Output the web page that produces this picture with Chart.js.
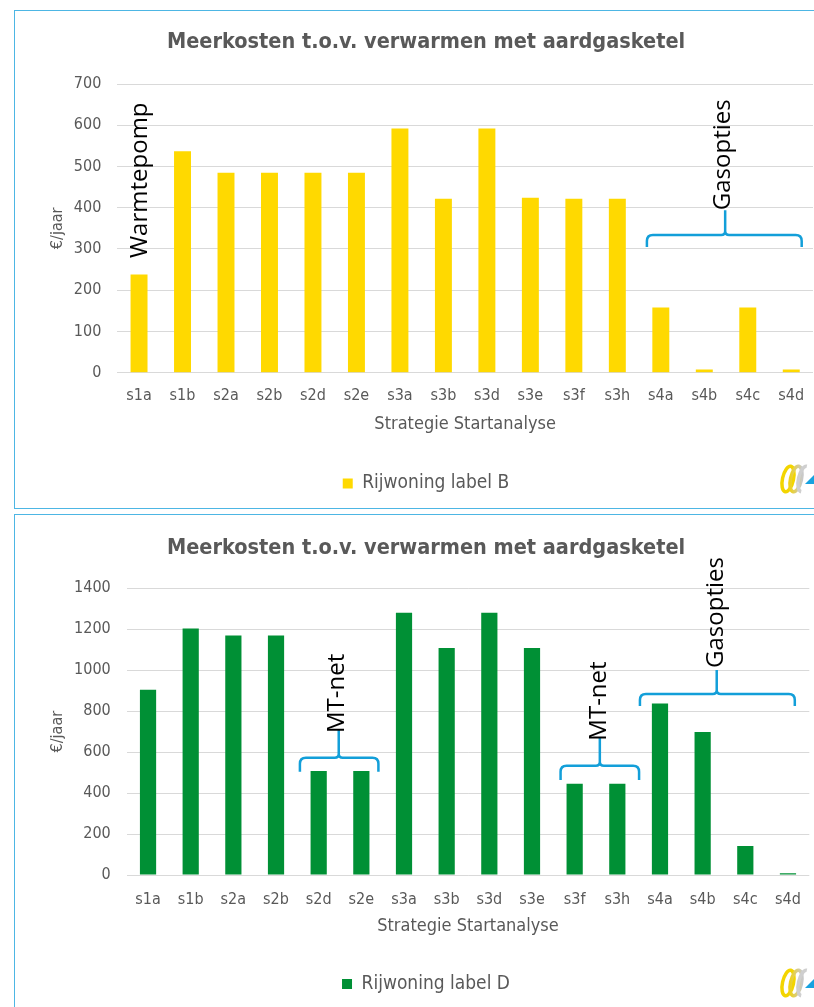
<!DOCTYPE html>
<html>
<head>
<meta charset="utf-8">
<script src="https://cdn.jsdelivr.net/npm/chart.js@4.4.1/dist/chart.umd.min.js"></script>
<style>
  html, body { margin: 0; padding: 0; background: #fff; overflow: hidden; width: 814px; height: 1007px; }
  .box { position: absolute; left: 14px; width: 822px; height: 497px; border: 1px solid #4db6e4; background: #fff; }
  #box1 { top: 10px; }
  #box2 { top: 514px; }
  canvas { position: absolute; left: 0; top: 0; }
</style>
</head>
<body>
<div class="box" id="box1"><canvas id="chartB" width="822" height="497"></canvas></div>
<div class="box" id="box2"><canvas id="chartD" width="822" height="497"></canvas></div>
<script>
// Strategy codes on the x axis
const categories = ['s1a', 's1b', 's2a', 's2b', 's2d', 's2e', 's3a', 's3b', 's3d', 's3e', 's3f', 's3h', 's4a', 's4b', 's4c', 's4d'];

// Extra yearly cost (EUR/year) per strategy
const rijwoningLabelB = [238, 537, 485, 485, 485, 485, 592, 422, 592, 424, 422, 422, 158, 8, 158, 8];
const rijwoningLabelD = [905, 1204, 1170, 1170, 508, 508, 1281, 1108, 1281, 1108, 446, 446, 837, 698, 142, 8];

const seriesNames = ['Rijwoning label B', 'Rijwoning label D'];
const chartTitle = 'Meerkosten t.o.v. verwarmen met aardgasketel';
const xTitle = 'Strategie Startanalyse';
const yTitle = '€/jaar';

const FONT = "'DejaVu Sans Condensed', 'DejaVu Sans', sans-serif";
const GREY = '#595959';

// Curly braces and rotated group labels, placed in data units (category index / value)
const annotate = {
  id: 'annotate',
  afterDatasetsDraw(chart, args, opts) {
    const { ctx, scales: { x, y } } = chart;
    ctx.save();
    ctx.strokeStyle = '#139fd9';
    ctx.lineWidth = 2.5;
    ctx.lineJoin = 'round';
    (opts.braces || []).forEach(b => {
      const x0 = x.getPixelForValue(b.from), x1 = x.getPixelForValue(b.to), xm = x.getPixelForValue(b.mid);
      const yb = y.getPixelForValue(b.bar), ye = y.getPixelForValue(b.end), yt = y.getPixelForValue(b.top);
      const r = 6, s = 4;
      ctx.beginPath();
      ctx.moveTo(x0, ye); ctx.lineTo(x0, yb + r); ctx.quadraticCurveTo(x0, yb, x0 + r, yb);
      ctx.lineTo(xm - s, yb); ctx.quadraticCurveTo(xm, yb, xm, yb - s); ctx.lineTo(xm, yt);
      ctx.moveTo(x1, ye); ctx.lineTo(x1, yb + r); ctx.quadraticCurveTo(x1, yb, x1 - r, yb);
      ctx.lineTo(xm + s, yb); ctx.quadraticCurveTo(xm, yb, xm, yb - s);
      ctx.stroke();
    });
    ctx.fillStyle = '#000';
    ctx.font = "24px 'Open Sans'";
    ctx.textBaseline = 'middle';
    ctx.textAlign = 'left';
    (opts.notes || []).forEach(n => {
      ctx.save();
      ctx.translate(x.getPixelForValue(n.at), y.getPixelForValue(n.base));
      ctx.rotate(-Math.PI / 2);
      ctx.fillText(n.text, 0, 0);
      ctx.restore();
    });
    ctx.restore();
  }
};

// Small ring logo in the lower right corner of each panel
const logo = {
  id: 'logo',
  afterDraw(chart) {
    const ctx = chart.ctx;
    const cx = 773, cy = 468;
    ctx.save();
    ctx.lineWidth = 3.5;
    ctx.strokeStyle = '#f3d500';
    ctx.beginPath(); ctx.ellipse(cx, cy, 5.5, 13, 0.22, 0, Math.PI * 2); ctx.stroke();
    const g = ctx.createLinearGradient(cx + 2, 0, cx + 14, 0);
    g.addColorStop(0, '#efd21a'); g.addColorStop(1, '#c9c9c9');
    ctx.strokeStyle = g;
    ctx.beginPath(); ctx.ellipse(cx + 8, cy, 5.5, 13, 0.22, 0, Math.PI * 2); ctx.stroke();
    ctx.strokeStyle = '#cfcfcf';
    ctx.beginPath(); ctx.ellipse(cx + 16, cy, 5.5, 13, 0.22, Math.PI * 0.5, Math.PI * 1.5); ctx.stroke();
    ctx.fillStyle = '#18a2df';
    ctx.beginPath(); ctx.moveTo(cx + 17, cy + 5); ctx.lineTo(cx + 27, cy - 5); ctx.lineTo(cx + 27, cy + 5); ctx.closePath(); ctx.fill();
    ctx.restore();
  }
};

function build(id, values, name, color, cfg) {
  return new Chart(document.getElementById(id), {
    type: 'bar',
    data: {
      labels: categories,
      datasets: [{ label: name, data: values, backgroundColor: color, borderWidth: 0,
                   barPercentage: cfg.bar, categoryPercentage: 1 }]
    },
    options: {
      responsive: false,
      animation: false,
      devicePixelRatio: 1,
      layout: { padding: { left: cfg.padLeft, right: cfg.padRight, top: 0, bottom: cfg.padBottom } },
      plugins: {
        title: { display: true, text: chartTitle, color: GREY,
                 font: { family: FONT, size: 21.5, weight: 'bold' },
                 padding: { top: cfg.titleTop, bottom: cfg.titleBottom } },
        legend: { position: 'bottom',
                  labels: { color: GREY, font: { family: FONT, size: 19 }, boxWidth: 10, boxHeight: 10, padding: cfg.legendPad } },
        tooltip: { enabled: false },
        annotate: cfg.annotate
      },
      scales: {
        x: {
          grid: { display: false }, border: { display: false },
          ticks: { color: GREY, font: { family: FONT, size: 16 }, padding: cfg.xTickPad, maxRotation: 0, autoSkip: false },
          title: { display: true, text: xTitle, color: GREY, font: { family: FONT, size: 18 }, padding: 0 },
          afterFit(s) { s.height = cfg.xHeight; }
        },
        y: {
          min: 0, max: cfg.max,
          ticks: { stepSize: cfg.step, color: GREY, font: { family: FONT, size: 16 }, padding: 16,
                   callback: v => String(v) },
          grid: { color: '#d9d9d9', drawTicks: false }, border: { display: false },
          title: { display: true, text: yTitle, color: GREY, font: { family: FONT, size: 16 }, padding: { top: cfg.yTitlePad, bottom: 0 } },
          afterFit(s) { s.width = cfg.yWidth; }
        }
      }
    },
    plugins: [annotate, logo]
  });
}

build('chartB', rijwoningLabelB, seriesNames[0], '#ffd900', {
  bar: 0.39, max: 700, step: 100,
  padLeft: 24, yWidth: 78.3, padRight: 24, padBottom: 5,
  titleTop: 18.1, titleBottom: 29.1, xHeight: 62.1, xTickPad: 6, legendPad: 39.2, yTitlePad: 9.4,
  annotate: {
    braces: [{ from: 11.68, to: 15.24, mid: 13.48, bar: 334, end: 305, top: 394 }],
    notes: [{ text: 'Warmtepomp', at: 0.02, base: 278 }, { text: 'Gasopties', at: 13.43, base: 394 }]
  }
});

build('chartD', rijwoningLabelD, seriesNames[1], '#009035', {
  bar: 0.38, max: 1400, step: 200,
  padLeft: 27.7, yWidth: 84, padRight: 27.7, padBottom: 8.5,
  titleTop: 20.1, titleBottom: 27.4, xHeight: 61.8, xTickPad: 7, legendPad: 37.7, yTitlePad: 5.7,
  annotate: {
    braces: [
      { from: 3.56, to: 5.40, mid: 4.47, bar: 573, end: 504, top: 708 },
      { from: 9.67, to: 11.51, mid: 10.59, bar: 534, end: 464, top: 669 },
      { from: 11.53, to: 15.16, mid: 13.33, bar: 884, end: 825, top: 1001 }
    ],
    notes: [
      { text: 'MT-net', at: 4.44, base: 693 },
      { text: 'MT-net', at: 10.57, base: 656 },
      { text: 'Gasopties', at: 13.31, base: 1011 }
    ]
  }
});
</script>
</body>
</html>
